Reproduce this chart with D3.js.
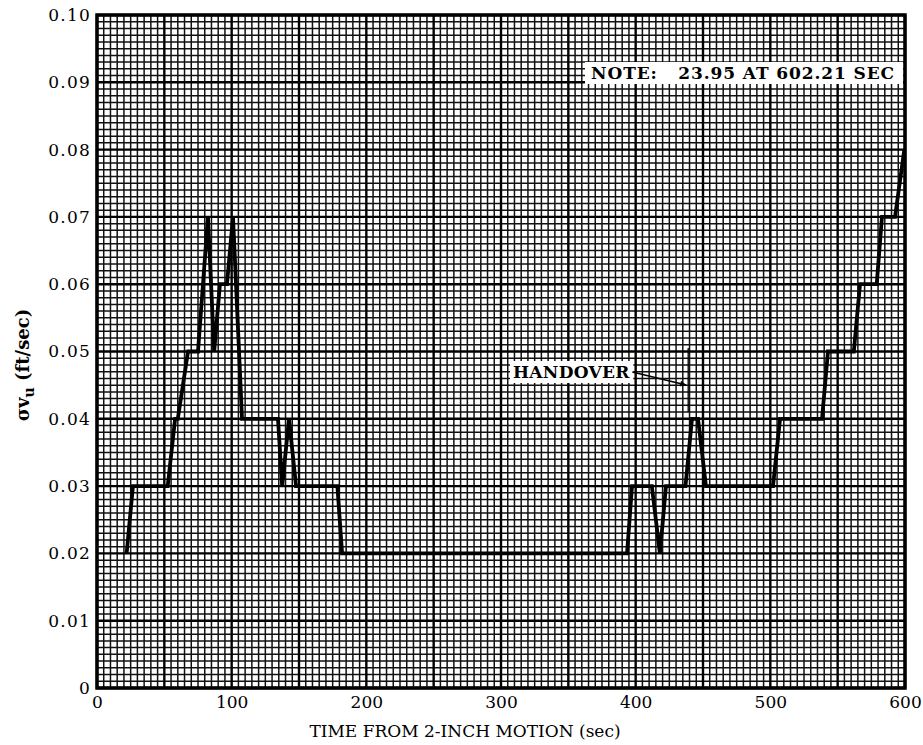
<!DOCTYPE html>
<html><head><meta charset="utf-8">
<script src="https://cdn.jsdelivr.net/npm/d3@7"></script>
<style>body{margin:0;background:#fff}svg{display:block}</style>
</head><body>
<svg id="c" width="923" height="745"></svg>
<script>
// ---- data ----
const times  = [22, 26.7, 52.5, 58, 60, 67.6, 75, 82.4, 87, 91.3, 96.5, 101, 107.7, 134.4, 137.5, 142.6, 147.8, 178.5, 182, 393.6, 397.3, 412, 418, 422.5, 437, 441.8, 446.3, 452.2, 502, 507.2, 538.4, 542.8, 562, 566.6, 579, 582.9, 592.6, 599.5];
const values = [0.02, 0.03, 0.03, 0.04, 0.04, 0.05, 0.05, 0.07, 0.05, 0.06, 0.06, 0.07, 0.04, 0.04, 0.03, 0.04, 0.03, 0.03, 0.02, 0.02, 0.03, 0.03, 0.02, 0.03, 0.03, 0.04, 0.04, 0.03, 0.03, 0.04, 0.04, 0.05, 0.05, 0.06, 0.06, 0.07, 0.07, 0.08];
const xTicks = [0, 100, 200, 300, 400, 500, 600];
const yTicks = [0, 0.01, 0.02, 0.03, 0.04, 0.05, 0.06, 0.07, 0.08, 0.09, 0.10];
const yTickLabels = ["0", "0.01", "0.02", "0.03", "0.04", "0.05", "0.06", "0.07", "0.08", "0.09", "0.10"];
const handoverTime = 439;
const noteText = "NOTE:   23.95 AT 602.21 SEC";

const svg = d3.select("#c");
const L = 97, R = 905, T = 15, B = 688;
const x = d3.scaleLinear().domain([0, 600]).range([L, R]);
const y = d3.scaleLinear().domain([0, 0.1]).range([B, T]);
const serif = "'DejaVu Serif', 'Liberation Serif', serif";

// graph paper grid
const g = svg.append("g");
const minorX = d3.range(0, 601, 5), minorY = d3.range(0, 101, 1).map(d => d / 1000);
g.selectAll("line.mx").data(minorX.filter(d => d % 50 !== 0)).join("line")
  .attr("x1", d => x(d)).attr("x2", d => x(d)).attr("y1", T).attr("y2", B)
  .attr("stroke", "#111").attr("stroke-width", 1.5);
g.selectAll("line.my").data(minorY.filter((d, i) => i % 10 !== 0)).join("line")
  .attr("y1", d => y(d)).attr("y2", d => y(d)).attr("x1", L).attr("x2", R)
  .attr("stroke", "#111").attr("stroke-width", 1.5);
g.selectAll("line.Mx").data(d3.range(0, 601, 50)).join("line")
  .attr("x1", d => x(d)).attr("x2", d => x(d)).attr("y1", T).attr("y2", B)
  .attr("stroke", "#000").attr("stroke-width", 2.4);
g.selectAll("line.My").data(d3.range(0, 11).map(d => d / 100)).join("line")
  .attr("y1", d => y(d)).attr("y2", d => y(d)).attr("x1", L).attr("x2", R)
  .attr("stroke", "#000").attr("stroke-width", 2.4);
svg.append("rect").attr("x", L).attr("y", T).attr("width", R - L).attr("height", B - T)
  .attr("fill", "none").attr("stroke", "#000").attr("stroke-width", 3.5);

// axes (labels only)
const xAxis = svg.append("g").attr("transform", `translate(0,${B})`)
  .call(d3.axisBottom(x).tickValues(xTicks).tickSize(0).tickPadding(8).tickFormat(d3.format("d")));
xAxis.select(".domain").remove();
xAxis.selectAll("text").attr("font-family", serif).attr("font-size", 17).attr("fill", "#000");

const yAxis = svg.append("g").attr("transform", `translate(${L},0)`)
  .call(d3.axisLeft(y).tickValues(yTicks).tickSize(0).tickPadding(6).tickFormat((d, i) => yTickLabels[i]));
yAxis.select(".domain").remove();
yAxis.selectAll("text").attr("font-family", serif).attr("font-size", 17).attr("letter-spacing", 1.2).attr("fill", "#000");

// data line
const pts = times.map((t, i) => [t, values[i]]);
svg.append("path").datum(pts)
  .attr("d", d3.line().x(d => x(d[0])).y(d => y(d[1])))
  .attr("fill", "none").attr("stroke", "#000").attr("stroke-width", 3.8).attr("stroke-linejoin", "miter");

// NOTE box
const note = svg.append("text").attr("x", R - 10).attr("y", 79).attr("text-anchor", "end")
  .attr("font-family", serif).attr("font-weight", "bold").attr("font-size", 17).attr("letter-spacing", 0.9).attr("fill", "#000")
  .style("white-space", "pre").text(noteText);
const nb = note.node().getBBox();
svg.append("rect").attr("x", nb.x - 6).attr("y", 62).attr("width", R - nb.x + 4).attr("height", 22).attr("fill", "#fff");
note.raise();

// HANDOVER annotation
const hx = x(handoverTime);
svg.append("line").attr("x1", hx).attr("x2", hx).attr("y1", 348).attr("y2", 412)
  .attr("stroke", "#000").attr("stroke-width", 1.3);
const ht = svg.append("text").attr("x", 513).attr("y", 378)
  .attr("font-family", serif).attr("font-weight", "bold").attr("font-size", 17).attr("letter-spacing", 0.3).attr("fill", "#000").text("HANDOVER");
const hb = ht.node().getBBox();
svg.append("rect").attr("x", hb.x - 3).attr("y", hb.y - 1).attr("width", hb.width + 6).attr("height", hb.height + 2).attr("fill", "#fff");
ht.raise();
svg.append("defs").append("marker").attr("id", "ah").attr("viewBox", "0 0 10 10").attr("refX", 10).attr("refY", 5)
  .attr("markerWidth", 10).attr("markerHeight", 6).attr("markerUnits", "userSpaceOnUse").attr("orient", "auto")
  .append("path").attr("d", "M0,0 L10,5 L0,10 z").attr("fill", "#000");
svg.append("line").attr("x1", hb.x + hb.width + 2).attr("y1", 372).attr("x2", hx - 2).attr("y2", 385)
  .attr("stroke", "#000").attr("stroke-width", 1.6).attr("marker-end", "url(#ah)");

// axis titles
svg.append("text").attr("x", 465).attr("y", 737).attr("text-anchor", "middle")
  .attr("font-family", serif).attr("font-size", 17).attr("fill", "#000").text("TIME FROM 2-INCH MOTION (sec)");
const yt = svg.append("text").attr("transform", "translate(29,365) rotate(-90)").attr("text-anchor", "middle")
  .attr("font-family", serif).attr("font-size", 18).attr("font-weight", "bold").attr("fill", "#000");
yt.append("tspan").text("σv");
yt.append("tspan").attr("dy", 5).attr("font-size", 14).text("u");
yt.append("tspan").attr("dy", -5).text(" (ft/sec)");
</script>
</body></html>
